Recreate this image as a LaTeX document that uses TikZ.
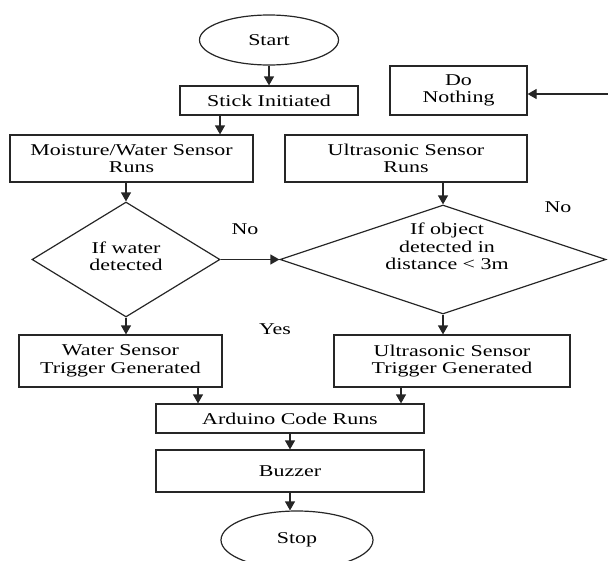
\documentclass[tikz,border=0pt]{standalone}
\usepackage{fontspec}
\setmainfont{Liberation Serif}[FakeStretch=1.33]
\usetikzlibrary{shapes.geometric,arrows.meta}
\begin{document}
\begin{tikzpicture}[x=1pt,y=-1pt,
  every node/.style={font=\fontsize{16.5}{17.5}\selectfont, text=black},
  boxnode/.style={draw=black!85, line width=1.2pt, rectangle, inner sep=0pt, align=center},
  ovalnode/.style={draw=black!85, line width=1.2pt, ellipse, inner sep=0pt},
  dianode/.style={draw=black!85, line width=1.2pt, diamond, inner sep=0pt},
  txtnode/.style={align=center, inner sep=0pt},
  arr/.style={draw=black!85, line width=1.2pt, -{Triangle[length=9pt,width=10pt]}}]
\useasboundingbox (0,0) rectangle (608,560);
% nodes
\node[ovalnode, minimum width=139, minimum height=50] (start) at (269,40) {Start};
\node[boxnode, minimum width=178, minimum height=29] (stick) at (269,100.5) {Stick Initiated};
\node[boxnode, minimum width=137, minimum height=49] (nothing) at (458.5,90.5) {Do\\Nothing};
\node[boxnode, minimum width=243, minimum height=47] (moist) at (131.5,158.5) {Moisture/Water Sensor\\Runs};
\node[boxnode, minimum width=242, minimum height=47] (usruns) at (406,158.5) {Ultrasonic Sensor\\Runs};
\node[dianode, minimum width=188, minimum height=115] (ldia) at (126,259.5) {};
\node[txtnode] (ldiatxt) at ([yshift=3pt]ldia.center) {If water\\detected};
\node[dianode, minimum width=326, minimum height=109] (rdia) at (443,259.5) {};
\node[txtnode] (rdiatxt) at ([yshift=13pt,xshift=4pt]rdia.center) {If object\\detected in\\distance \textless{} 3m};
\node[boxnode, minimum width=203, minimum height=52] (wtrig) at (120.5,361) {Water Sensor\\Trigger Generated};
\node[boxnode, minimum width=236, minimum height=52] (ustrig) at (452,361) {Ultrasonic Sensor\\Trigger Generated};
\node[boxnode, minimum width=268, minimum height=29] (arduino) at (290,418.5) {Arduino Code Runs};
\node[boxnode, minimum width=268, minimum height=42] (buzzer) at (290,471) {Buzzer};
\node[ovalnode, minimum width=152, minimum height=58] (stop) at (297,540) {Stop};
% labels
\node[txtnode] (nol) at (245,229) {No};
\node[txtnode] (nor) at (558,207) {No};
\node[txtnode] (yes) at (275,329) {Yes};
\coordinate (dnin) at (608,94);
% connectors
\draw[arr] (start.south) -- (stick.north);
\draw[arr] ([xshift=-49pt]stick.south) -- ([xshift=-49pt]stick.south |- moist.north);
\draw[arr] (moist.south -| ldia.north) -- (ldia.north);
\draw[arr] (usruns.south -| rdia.north) -- (rdia.north);
\draw[arr] (ldia.east) -- (rdia.west);
\draw[arr] (ldia.south) -- (ldia.south |- wtrig.north);
\draw[arr] (rdia.south) -- (rdia.south |- ustrig.north);
\draw[arr] ([xshift=77.5pt]wtrig.south) -- ([xshift=77.5pt]wtrig.south |- arduino.north);
\draw[arr] ([xshift=-51pt]ustrig.south) -- ([xshift=-51pt]ustrig.south |- arduino.north);
\draw[arr] (arduino.south) -- (buzzer.north);
\draw[arr] (buzzer.south) -- (buzzer.south |- stop.north);
\draw[arr] (dnin) -- (dnin -| nothing.east);
\end{tikzpicture}
\end{document}
